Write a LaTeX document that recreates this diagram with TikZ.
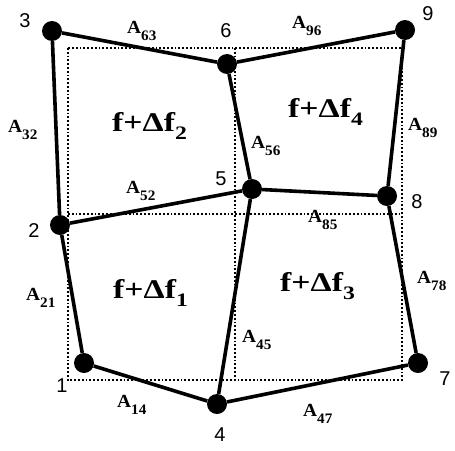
\documentclass[tikz,border=0pt]{standalone}
\usepackage{fontspec}
\usepackage{tikz}
\usetikzlibrary{
  positioning
}
\newfontfamily\edgefont[FakeStretch=1.05]{Liberation Serif}
\newfontfamily\cellfont[FakeStretch=1.25]{Liberation Serif}
\newfontfamily\numfont{Liberation Sans}
\newcommand{\Alab}[1]{A\raisebox{-7pt}{\fontsize{14.5}{14.5}\selectfont #1}}
\newcommand{\Fcell}[1]{f+Δf\raisebox{-8pt}{\fontsize{19}{19}\selectfont #1}}
\tikzset{
  joint/.style={
    circle,
    fill=black,
    inner sep=0pt,
    minimum size=20pt
  },
  joinlabel/.style={
    inner sep=0pt,
    font=\numfont\fontsize{20}{20}\selectfont
  },
  edgelabel/.style={
    anchor=base west,
    inner sep=0pt,
    font=\edgefont\bfseries\fontsize{18.5}{18.5}\selectfont
  },
  celllabel/.style={
    anchor=base west,
    inner sep=0pt,
    font=\cellfont\bfseries\fontsize{27}{27}\selectfont
  },
  member/.style={
    line width=3.6pt
  },
  gridline/.style={
    line width=1.9pt,
    dash pattern=on 1.8pt off 2pt
  }
}

\begin{document}
\begin{tikzpicture}[
  x=1pt,
  y=-1pt
]

  \useasboundingbox
  (0,0) rectangle
  (455,450);

  % undeformed grid
  \draw[gridline]
  (68,48) rectangle
  (402,380);

  \draw[gridline]
  (235,48) --
  (235,380);

  \draw[gridline]
  (68,214) --
  (402,214);

  % joints
  \node[joint] (n1) at (84,363) {};
  \node[joint] (n2) at (60,225) {};
  \node[joint] (n3) at (52,31) {};
  \node[joint] (n4) at (217,404) {};
  \node[joint] (n5) at (252,189) {};
  \node[joint] (n6) at (227,64) {};
  \node[joint] (n7) at (418,363) {};
  \node[joint] (n8) at (387,196) {};
  \node[joint] (n9) at (405,30) {};

  % members
  \draw[member] (n3) -- (n6);
  \draw[member] (n6) -- (n9);
  \draw[member] (n3) -- (n2);
  \draw[member] (n6) -- (n5);
  \draw[member] (n9) -- (n8);
  \draw[member] (n2) -- (n5);
  \draw[member] (n5) -- (n8);
  \draw[member] (n2) -- (n1);
  \draw[member] (n5) -- (n4);
  \draw[member] (n8) -- (n7);
  \draw[member] (n1) -- (n4);
  \draw[member] (n4) -- (n7);

  % joint numbers
  \node[joinlabel] (t1) at (62,386) {1};
  \node[joinlabel] (t2) at (34,231) {2};
  \node[joinlabel] (t3) at (25,21) {3};
  \node[joinlabel] (t4) at (220,435) {4};
  \node[joinlabel] (t5) at (221,179) {5};
  \node[joinlabel] (t6) at (226,31) {6};
  \node[joinlabel] (t7) at (445,379) {7};
  \node[joinlabel] (t8) at (417,202) {8};
  \node[joinlabel] (t9) at (428,14) {9};

  % member labels
  \node[edgelabel] (a63) at (127,33) {\Alab{63}};
  \node[edgelabel] (a96) at (292,28) {\Alab{96}};
  \node[edgelabel] (a32) at (8,132) {\Alab{32}};
  \node[edgelabel] (a52) at (126,193) {\Alab{52}};
  \node[edgelabel] (a56) at (251,148) {\Alab{56}};
  \node[edgelabel] (a89) at (408,130) {\Alab{89}};
  \node[edgelabel] (a85) at (308,222) {\Alab{85}};
  \node[edgelabel] (a21) at (26,300) {\Alab{21}};
  \node[edgelabel] (a14) at (117,407) {\Alab{14}};
  \node[edgelabel] (a45) at (242,342) {\Alab{45}};
  \node[edgelabel] (a78) at (417,283) {\Alab{78}};
  \node[edgelabel] (a47) at (303,416) {\Alab{47}};

  % cell labels
  \node[celllabel] (f2) at (112,131) {\Fcell{2}};
  \node[celllabel] (f4) at (288,117) {\Fcell{4}};
  \node[celllabel] (f1) at (113,298) {\Fcell{1}};
  \node[celllabel] (f3) at (280,291) {\Fcell{3}};

\end{tikzpicture}
\end{document}
